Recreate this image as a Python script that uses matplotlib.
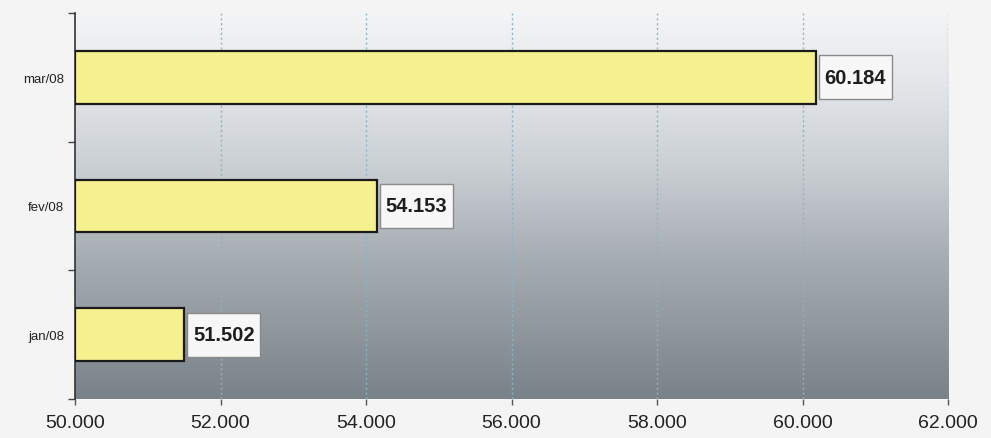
import numpy as np
import matplotlib.pyplot as plt
from matplotlib.colors import LinearSegmentedColormap
from matplotlib.patches import Rectangle

months = ['jan/08', 'fev/08', 'mar/08']
values = [51502, 54153, 60184]
labels = ['51.502', '54.153', '60.184']
xticks = [50000, 52000, 54000, 56000, 58000, 60000, 62000]
xticklabels = ['50.000', '52.000', '54.000', '56.000', '58.000', '60.000', '62.000']

fig = plt.figure(figsize=(9.91, 4.39), dpi=100)
fig.patch.set_facecolor('#f3f4f3')
ax = fig.add_axes([0.0757, 0.089, 0.881, 0.879])
ax.set_xlim(50000, 62000)
ax.set_ylim(-0.5, 2.5)

# background gradient, light at top, grey at bottom
cmap = LinearSegmentedColormap.from_list(
    'bg', [(0.0, '#7a8289'), (0.35, '#a4abb1'), (0.6, '#cacfd4'), (0.8, '#e2e5e8'), (1.0, '#f3f4f5')])
grad = np.linspace(0, 1, 256).reshape(-1, 1)
ax.imshow(grad, aspect='auto', cmap=cmap, origin='lower',
          extent=[0, 1, 0, 1], transform=ax.transAxes, zorder=0)

for xv in xticks[1:]:
    ax.axvline(xv, color='#86b6c6', linestyle=(0, (1.5, 2)), linewidth=1, zorder=1)

y = np.arange(len(months))
ax.barh(y, [v - 50000 for v in values], left=50000, height=0.41,
        color='#f6f18f', edgecolor='#1a1a1a', linewidth=1.6, zorder=3)

# value boxes
px_x = 12000 / 873.0
px_y = 3 / 386.0
for yi, v, lab in zip(y, values, labels):
    x0 = v + 3 * px_x
    w = 73 * px_x
    h = 44 * px_y
    ax.add_patch(Rectangle((x0, yi - h / 2), w, h, facecolor='#f7f7f7',
                           edgecolor='#8a8a8a', linewidth=1, zorder=4, clip_on=False))
    ax.text(x0 + w / 2, yi, lab, ha='center', va='center', fontsize=14.5,
            fontweight='bold', color='#1e1e1e', family='Liberation Sans', zorder=5)

ax.set_yticks([-0.5, 0.5, 1.5, 2.5])
ax.set_yticklabels([])
ax.set_yticks(y, minor=True)
ax.set_yticklabels(months, minor=True, fontsize=9.5, family='Liberation Sans', color='#222222')
ax.tick_params(axis='y', which='minor', length=0, pad=8)
ax.tick_params(axis='y', which='major', length=5, width=1, color='#444444', direction='out')

ax.set_xticks(xticks)
ax.set_xticklabels(xticklabels, fontsize=14, family='Liberation Sans', color='#222222')
ax.tick_params(axis='x', length=4, width=1, color='#555555', direction='out', pad=7)

for s in ['top', 'right', 'bottom']:
    ax.spines[s].set_visible(False)
ax.spines['left'].set_color('#333333')
ax.spines['left'].set_linewidth(1.2)

fig.savefig('out.png', dpi=100, facecolor=fig.get_facecolor())
